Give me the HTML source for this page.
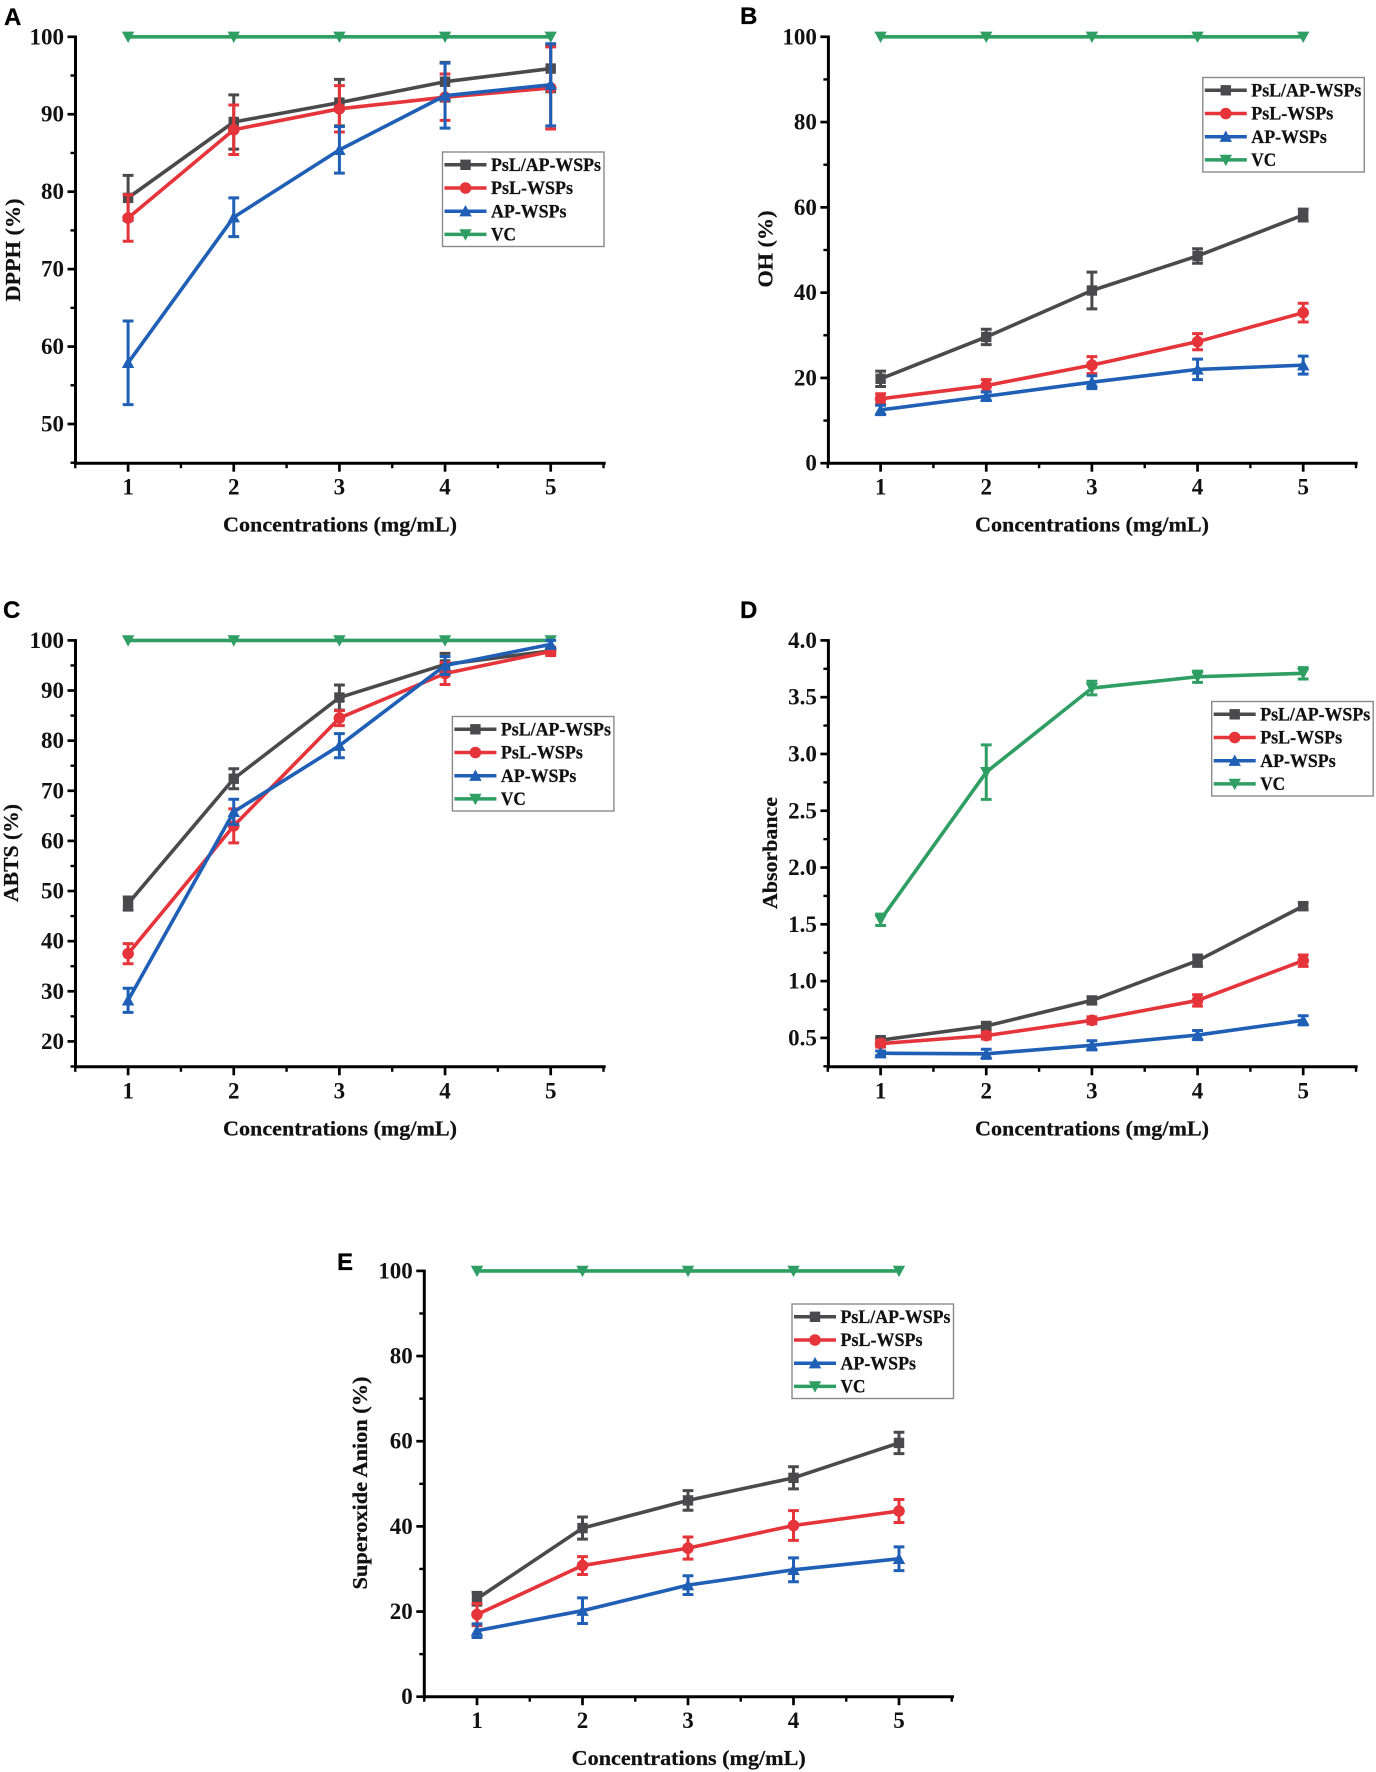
<!DOCTYPE html>
<html lang="en">
<head>
<meta charset="utf-8">
<title>Antioxidant activity charts</title>
<style>
html,body{margin:0;padding:0;background:#fff;}
#stage{display:block;width:1376px;height:1772px;background:#fff;filter:blur(0.35px);}
text{font-family:"Liberation Serif",serif;font-weight:bold;fill:#111;stroke:#111;stroke-width:0.25px;}
text.tick{font-family:"Liberation Serif",serif;font-weight:bold;stroke:none;}
.letter{font-family:"Liberation Sans",sans-serif;font-size:24px;fill:#000;stroke-width:0.3px;}
</style>
</head>
<body>
<svg id="stage" xmlns="http://www.w3.org/2000/svg" width="1376" height="1772" viewBox="0 0 1376 1772"></svg>
<script>
// ---------- Shared data ----------
const categories = [1, 2, 3, 4, 5];
const seriesNames = ['PsL/AP-WSPs', 'PsL-WSPs', 'AP-WSPs', 'VC'];
const xAxisTitle = 'Concentrations (mg/mL)';

// ---------- Panel A: DPPH ----------
const aTicks = [50, 60, 70, 80, 90, 100];
const aBlack = [79.2, 89.0, 91.5, 94.2, 95.9];
const aBlackErr = [2.9, 3.5, 3.0, 2.5, 3.0];
const aRed = [76.6, 88.0, 90.7, 92.2, 93.4];
const aRedErr = [3.0, 3.2, 3.0, 3.0, 5.3];
const aBlue = [57.9, 76.7, 85.4, 92.4, 93.8];
const aBlueErr = [5.4, 2.5, 3.0, 4.2, 5.3];
const aGreen = [100, 100, 100, 100, 100];
const aGreenErr = [0, 0, 0, 0, 0];

// ---------- Panel B: OH ----------
const bTicks = [0, 20, 40, 60, 80, 100];
const bBlack = [19.8, 29.6, 40.5, 48.6, 58.2];
const bBlackErr = [1.8, 1.8, 4.3, 1.7, 1.4];
const bRed = [15.1, 18.2, 23.0, 28.5, 35.3];
const bRedErr = [1.2, 1.4, 2.0, 1.9, 2.2];
const bBlue = [12.5, 15.7, 19.0, 22.0, 23.0];
const bBlueErr = [1.1, 1.0, 1.5, 2.4, 2.1];
const bGreen = [100, 100, 100, 100, 100];
const bGreenErr = [0, 0, 0, 0, 0];

// ---------- Panel C: ABTS ----------
const cTicks = [20, 30, 40, 50, 60, 70, 80, 90, 100];
const cBlack = [47.5, 72.4, 88.6, 95.2, 97.9];
const cBlackErr = [1.3, 2.0, 2.5, 2.2, 0.6];
const cRed = [37.5, 63.0, 84.5, 93.4, 97.8];
const cRedErr = [2.0, 3.4, 1.5, 2.2, 0.8];
const cBlue = [28.2, 65.8, 79.0, 95.0, 99.2];
const cBlueErr = [2.4, 2.5, 2.4, 1.8, 0.8];
const cGreen = [100, 100, 100, 100, 100];
const cGreenErr = [0, 0, 0, 0, 0];

// ---------- Panel D: Absorbance ----------
const dTicks = ['0.5', '1.0', '1.5', '2.0', '2.5', '3.0', '3.5', '4.0'];
const dBlack = [0.48, 0.605, 0.83, 1.18, 1.66];
const dBlackErr = [0.02, 0.03, 0.03, 0.05, 0.03];
const dRed = [0.45, 0.52, 0.655, 0.83, 1.18];
const dRedErr = [0.03, 0.03, 0.03, 0.05, 0.05];
const dBlue = [0.365, 0.36, 0.435, 0.525, 0.655];
const dBlueErr = [0.02, 0.04, 0.04, 0.04, 0.04];
const dGreen = [1.54, 2.84, 3.58, 3.68, 3.71];
const dGreenErr = [0.05, 0.24, 0.06, 0.05, 0.05];

// ---------- Panel E: Superoxide anion ----------
const eTicks = [0, 20, 40, 60, 80, 100];
const eBlack = [23.0, 39.6, 46.1, 51.4, 59.6];
const eBlackErr = [1.5, 2.6, 2.3, 2.6, 2.5];
const eRed = [19.3, 30.8, 34.9, 40.2, 43.6];
const eRedErr = [2.6, 2.1, 2.6, 3.5, 2.7];
const eBlue = [15.5, 20.2, 26.2, 29.8, 32.4];
const eBlueErr = [1.6, 3.0, 2.2, 2.8, 2.8];
const eGreen = [100, 100, 100, 100, 100];
const eGreenErr = [0, 0, 0, 0, 0];

// ---------- Rendering ----------
const svg = document.getElementById('stage');
const NS = 'http://www.w3.org/2000/svg';
const colors = ['#4a4a4c', '#e5343a', '#1f5fb6', '#2f9e63'];
const markerKinds = ['square', 'circle', 'up', 'down'];
const legendWidths = [110, 82, 75.5, 25];
const drawOrder = [3, 0, 1, 2];

function mk(tag, attrs, parent, txt) {
  const el = document.createElementNS(NS, tag);
  for (const k in attrs) el.setAttribute(k, attrs[k]);
  if (txt !== undefined) el.textContent = txt;
  parent.appendChild(el);
  return el;
}

function drawMarker(parent, kind, x, y, color, name) {
  let m;
  if (kind === 'square') {
    m = mk('rect', {x: x - 5.2, y: y - 5.2, width: 10.4, height: 10.4, fill: color}, parent);
  } else if (kind === 'circle') {
    m = mk('circle', {cx: x, cy: y, r: 5.8, fill: color}, parent);
  } else if (kind === 'up') {
    m = mk('polygon', {points: (x - 6.2) + ',' + (y + 5.2) + ' ' + (x + 6.2) + ',' + (y + 5.2) + ' ' + x + ',' + (y - 6.2), fill: color}, parent);
  } else {
    m = mk('polygon', {points: (x - 6.2) + ',' + (y - 5.2) + ' ' + (x + 6.2) + ',' + (y - 5.2) + ' ' + x + ',' + (y + 6.2), fill: color}, parent);
  }
  
  
  return m;
}

function drawPanel(p) {
  const g = mk('g', {}, svg);
  
  

  const xScale = v => p.x1 + (v - categories[0]) * (p.x5 - p.x1) / (categories[categories.length - 1] - categories[0]);
  const yScale = v => p.yA + (v - p.vA) * (p.yB - p.yA) / (p.vB - p.vA);

  const letter = mk('text', {x: p.letterX, y: p.letterY, class: 'letter'}, g, p.id);
  
  

  // axes
  const yLine = mk('line', {x1: p.left, x2: p.left, y1: yScale(p.vTop) - 1.3, y2: p.bottom + 1.5, stroke: '#000', 'stroke-width': 3}, g);
  
  
  const xLine = mk('line', {x1: p.left - 1.5, x2: p.right + 1, y1: p.bottom, y2: p.bottom, stroke: '#000', 'stroke-width': 3}, g);
  
  

  // y ticks
  p.ticks.forEach((t, i) => {
    const v = Number(t);
    const y = yScale(v);
    const tick = mk('line', {x1: p.left - 8, x2: p.left, y1: y, y2: y, stroke: '#000', 'stroke-width': 2.7}, g);
    
    
    const label = mk('text', {x: p.left - 11.5, y: y + 7.5, 'text-anchor': 'end', 'font-size': 23, class: 'tick'}, g, String(t));
    
    
    if (i < p.ticks.length - 1) {
      const my = yScale((v + Number(p.ticks[i + 1])) / 2);
      const minor = mk('line', {x1: p.left - 5, x2: p.left, y1: my, y2: my, stroke: '#000', 'stroke-width': 2.4}, g);
      
      
    }
  });
  const lowMinorVal = Number(p.ticks[0]) - (Number(p.ticks[1]) - Number(p.ticks[0])) / 2;
  if (yScale(lowMinorVal) < p.bottom) {
    const lm = mk('line', {x1: p.left - 5, x2: p.left, y1: yScale(lowMinorVal), y2: yScale(lowMinorVal), stroke: '#000', 'stroke-width': 2.4}, g);
    
    
  }

  // x ticks
  categories.forEach((c, i) => {
    const x = xScale(c);
    const tick = mk('line', {x1: x, x2: x, y1: p.bottom, y2: p.bottom + 8.5, stroke: '#000', 'stroke-width': 2.7}, g);
    
    
    const label = mk('text', {x: x, y: p.bottom + 31.5, 'text-anchor': 'middle', 'font-size': 23, class: 'tick'}, g, String(c));
    
    
    const minorLeft = xScale(c - 0.5);
    const minor = mk('line', {x1: minorLeft, x2: minorLeft, y1: p.bottom, y2: p.bottom + 5, stroke: '#000', 'stroke-width': 2.4}, g);
    
    
    if (i === categories.length - 1) {
      const endX = xScale(c + 0.5);
      const end = mk('line', {x1: endX, x2: endX, y1: p.bottom, y2: p.bottom + 5, stroke: '#000', 'stroke-width': 2.4}, g);
      
      
    }
  });

  // titles
  const xt = mk('text', {x: p.xTitleX, y: p.bottom + 68.5, 'text-anchor': 'middle', 'font-size': 21.5, textLength: 234, lengthAdjust: 'spacingAndGlyphs'}, g, xAxisTitle);
  
  
  const yt = mk('text', {transform: 'translate(' + p.yTitleX + ',' + p.yTitleY + ') rotate(-90)', 'text-anchor': 'middle', 'font-size': 21.5, textLength: p.yTitleLen, lengthAdjust: 'spacingAndGlyphs'}, g, p.yTitle);
  
  

  // series
  drawOrder.forEach(si => {
    const s = p.series[si];
    const sg = mk('g', {}, g);
    
    
    const col = colors[si];
    const pts = s.values.map((v, i) => xScale(categories[i]) + ',' + yScale(v)).join(' ');
    const line = mk('polyline', {points: pts, fill: 'none', stroke: col, 'stroke-width': 3.6, 'stroke-linejoin': 'round'}, sg);
    
    
    s.values.forEach((v, i) => {
      drawMarker(sg, markerKinds[si], xScale(categories[i]), yScale(v), col, 'data-point');
    });
    s.values.forEach((v, i) => {
      const e = s.errors[i];
      if (e > 0) {
        const x = xScale(categories[i]);
        const y0 = yScale(v - e), y1 = yScale(v + e);
        const d = 'M' + x + ' ' + y0 + 'V' + y1 + 'M' + (x - 5.4) + ' ' + y0 + 'H' + (x + 5.4) + 'M' + (x - 5.4) + ' ' + y1 + 'H' + (x + 5.4);
        const bar = mk('path', {d: d, stroke: col, 'stroke-width': 3, fill: 'none'}, sg);
        
        
      }
    });
  });

  // legend
  const lg = mk('g', {}, g);
  
  
  const box = mk('rect', {x: p.legX, y: p.legY, width: 161.5, height: 94.5, fill: '#fff', stroke: '#8a8a8a', 'stroke-width': 1.4}, lg);
  
  
  seriesNames.forEach((n, i) => {
    const ry = p.legY + 12.8 + i * 23.2;
    const e = mk('g', {}, lg);
    
    
    const sw = mk('line', {x1: p.legX + 2, x2: p.legX + 44, y1: ry, y2: ry, stroke: colors[i], 'stroke-width': 3.5}, e);
    
    
    drawMarker(e, markerKinds[i], p.legX + 23, ry, colors[i], 'legend-marker');
    const t = mk('text', {x: p.legX + 48.5, y: ry + 6.2, 'font-size': 18.5, textLength: legendWidths[i], lengthAdjust: 'spacingAndGlyphs'}, e, n);
    
    
  });
}

const leftCol = {left: 75.5, x1: 128.1, x5: 550.7, right: 604.7, xTitleX: 340};
const rightCol = {left: 828.4, x1: 880.6, x5: 1303.2, right: 1356.7, xTitleX: 1092};
const topRow = {bottom: 463.2};
const midRow = {bottom: 1066.8};

drawPanel(Object.assign({}, leftCol, topRow, {
  id: 'A', letterX: 4, letterY: 25, yTitle: 'DPPH (%)', yTitleX: 20, yTitleY: 250, yTitleLen: 103,
  ticks: aTicks, vA: 100, yA: 36.8, vB: 50, yB: 424, vTop: 100,
  legX: 442.5, legY: 152,
  series: [{values: aBlack, errors: aBlackErr}, {values: aRed, errors: aRedErr}, {values: aBlue, errors: aBlueErr}, {values: aGreen, errors: aGreenErr}]
}));
drawPanel(Object.assign({}, rightCol, topRow, {
  id: 'B', letterX: 740, letterY: 24, yTitle: 'OH (%)', yTitleX: 772.5, yTitleY: 249, yTitleLen: 77,
  ticks: bTicks, vA: 100, yA: 36.8, vB: 0, yB: 463.2, vTop: 100,
  legX: 1202.8, legY: 77.5,
  series: [{values: bBlack, errors: bBlackErr}, {values: bRed, errors: bRedErr}, {values: bBlue, errors: bBlueErr}, {values: bGreen, errors: bGreenErr}]
}));
drawPanel(Object.assign({}, leftCol, midRow, {
  id: 'C', letterX: 3, letterY: 618, yTitle: 'ABTS (%)', yTitleX: 18, yTitleY: 853, yTitleLen: 98,
  ticks: cTicks, vA: 100, yA: 640.4, vB: 20, yB: 1041.4, vTop: 100,
  legX: 452.4, legY: 716.5,
  series: [{values: cBlack, errors: cBlackErr}, {values: cRed, errors: cRedErr}, {values: cBlue, errors: cBlueErr}, {values: cGreen, errors: cGreenErr}]
}));
drawPanel(Object.assign({}, rightCol, midRow, {
  id: 'D', letterX: 740, letterY: 618, yTitle: 'Absorbance', yTitleX: 777, yTitleY: 853, yTitleLen: 112,
  ticks: dTicks, vA: 4, yA: 640.4, vB: 0.5, yB: 1037.9, vTop: 4,
  legX: 1211.7, legY: 701.5,
  series: [{values: dBlack, errors: dBlackErr}, {values: dRed, errors: dRedErr}, {values: dBlue, errors: dBlueErr}, {values: dGreen, errors: dGreenErr}]
}));
drawPanel({
  id: 'E', left: 424.3, x1: 477, x5: 899, right: 953, xTitleX: 688.7, bottom: 1696.7,
  letterX: 337, letterY: 1270, yTitle: 'Superoxide Anion (%)', yTitleX: 367, yTitleY: 1483, yTitleLen: 213,
  ticks: eTicks, vA: 100, yA: 1270.9, vB: 0, yB: 1696.7, vTop: 100,
  legX: 792, legY: 1304,
  series: [{values: eBlack, errors: eBlackErr}, {values: eRed, errors: eRedErr}, {values: eBlue, errors: eBlueErr}, {values: eGreen, errors: eGreenErr}]
});
</script>
</body>
</html>
